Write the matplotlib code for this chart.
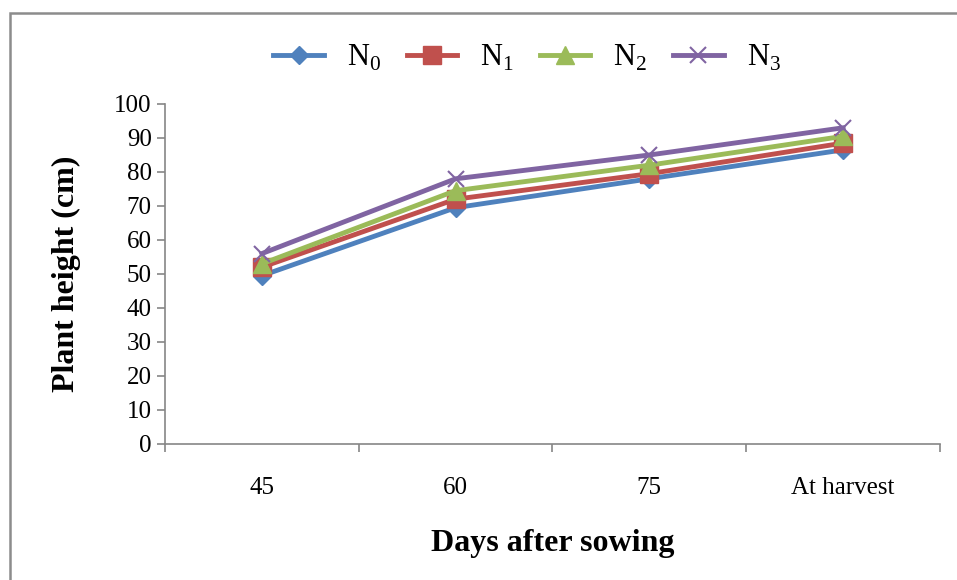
import matplotlib.pyplot as plt
from matplotlib.patches import Rectangle

days = ['45', '60', '75', 'At harvest']
n0 = [49.5, 69.5, 78.0, 86.5]
n1 = [52.0, 72.0, 79.5, 88.5]
n2 = [53.0, 74.5, 82.0, 90.5]
n3 = [56.0, 78.0, 85.0, 93.0]

plt.rcParams['font.family'] = ['Liberation Serif', 'DejaVu Serif']
plt.rcParams['mathtext.fontset'] = 'custom'
plt.rcParams['mathtext.rm'] = 'Liberation Serif'

fig = plt.figure(figsize=(9.57, 5.8), dpi=100)
ax = fig.add_axes([0.1724, 0.2345, 0.8098, 0.5862])

x = range(len(days))
ax.plot(x, n0, color='#4F81BD', lw=3.5, marker='D', ms=9, label=r'N$_\mathrm{0}$')
ax.plot(x, n1, color='#C0504D', lw=3.5, marker='s', ms=13, label=r'N$_\mathrm{1}$')
ax.plot(x, n2, color='#9BBB59', lw=3.5, marker='^', ms=13, label=r'N$_\mathrm{2}$')
ax.plot(x, n3, color='#8064A2', lw=3.5, marker='x', ms=12, mew=1.5, label=r'N$_\mathrm{3}$')

ax.set_xlim(-0.5, 3.5)
ax.set_ylim(0, 100)
ax.set_yticks(range(0, 101, 10))
ax.set_xticks([-0.5, 0.5, 1.5, 2.5, 3.5])
ax.set_xticklabels([])
ax.set_xticks(list(x), minor=True)
ax.set_xticklabels(days, minor=True)

gray = '#868686'
for s in ['top', 'right']:
    ax.spines[s].set_visible(False)
for s in ['left', 'bottom']:
    ax.spines[s].set_color(gray)
    ax.spines[s].set_linewidth(1.2)
ax.tick_params(axis='both', which='major', color=gray, length=6, width=1.2, labelsize=18)
ax.tick_params(axis='x', which='minor', length=0, pad=24, labelsize=18)

ax.set_xlabel('Days after sowing', fontsize=23, fontweight='bold')
ax.xaxis.set_label_coords(0.5, -0.25)
ax.set_ylabel('Plant height (cm)', fontsize=23, fontweight='bold')
ax.yaxis.set_label_coords(-0.108, 0.5)

fig.legend(loc='center', bbox_to_anchor=(527 / 957, 1 - 58 / 580), ncol=4,
           frameon=False, fontsize=22, handlelength=1.65, handletextpad=0.75,
           columnspacing=0.85)

# outer chart border
fig.patches.append(Rectangle((10 / 957, -0.1), 1.0, 1 - 13 / 580 + 0.1,
                             transform=fig.transFigure, fill=False,
                             edgecolor='#8C8C8C', lw=1.8))

fig.savefig('out.png', dpi=100)
